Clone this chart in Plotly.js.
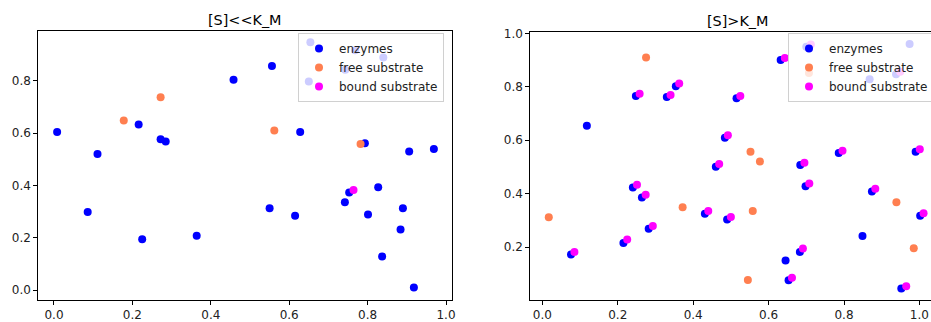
<!DOCTYPE html>
<html>
<head>
<meta charset="utf-8">
<script src="https://cdn.plot.ly/plotly-3.0.1.min.js"></script>
<style>
html,body{margin:0;padding:0;overflow:hidden;background:#fff;}
#chart{width:960px;height:322px;}
</style>
</head>
<body>
<div id="chart"></div>
<script>
// ---- Left panel: [S]<<K_M ----
const leftEnzX = [0.008,0.111,0.086,0.216,0.225,0.272,0.285,0.364,0.458,0.556,0.550,0.615,0.628,0.742,0.753,0.793,0.801,0.827,0.837,0.884,0.890,0.906,0.918,0.969,0.654,0.650,0.768,0.840,0.743];
const leftEnzY = [0.605,0.521,0.299,0.633,0.194,0.577,0.568,0.208,0.805,0.857,0.313,0.284,0.605,0.336,0.373,0.562,0.289,0.393,0.128,0.232,0.313,0.530,0.010,0.540,0.948,0.798,0.917,0.890,0.843];
const leftFreeX = [0.178,0.272,0.562,0.782];
const leftFreeY = [0.649,0.738,0.610,0.559];
const leftBoundX = [0.764];
const leftBoundY = [0.383];

// ---- Right panel: [S]>K_M ----
const rightEnzX = [0.076,0.118,0.215,0.240,0.248,0.264,0.282,0.330,0.354,0.431,0.460,0.484,0.490,0.515,0.632,0.645,0.653,0.683,0.684,0.698,0.786,0.849,0.874,0.952,0.990,1.002,0.868,0.974,0.938,0.700];
const rightEnzY = [0.172,0.654,0.215,0.423,0.766,0.386,0.269,0.762,0.802,0.325,0.501,0.609,0.303,0.757,0.900,0.150,0.076,0.182,0.507,0.428,0.552,0.241,0.408,0.045,0.557,0.317,0.828,0.960,0.847,0.950];
const rightFreeX = [0.017,0.275,0.372,0.552,0.577,0.558,0.545,0.939,0.985,0.707];
const rightFreeY = [0.312,0.910,0.349,0.557,0.520,0.335,0.077,0.368,0.196,0.852];
const rightBoundX = [0.085,0.225,0.251,0.258,0.274,0.293,0.340,0.363,0.440,0.469,0.492,0.500,0.525,0.643,0.662,0.691,0.695,0.708,0.796,0.883,0.965,1.001,1.011,0.712,0.949];
const rightBoundY = [0.182,0.228,0.433,0.774,0.396,0.279,0.769,0.812,0.335,0.511,0.619,0.313,0.766,0.908,0.085,0.195,0.516,0.438,0.561,0.418,0.053,0.566,0.327,0.958,0.856];

const seriesNames = ['enzymes','free substrate','bound substrate'];
const seriesColors = ['#0000ff','#ff7f50','#ff00ff'];
const titles = ['[S]<<K_M','[S]>K_M'];
const tickVals = [0.0,0.2,0.4,0.6,0.8,1.0];

const W = 960, H = 322;
const FONT = 'DejaVu Sans, sans-serif';

function tr(x, y, i, xa, ya, leg) {
  return {
    type: 'scatter', mode: 'markers', x: x, y: y, name: seriesNames[i],
    xaxis: xa, yaxis: ya, legend: leg,
    marker: {color: seriesColors[i], size: 8, line: {width: 0}},
    hoverinfo: 'skip'
  };
}

const data = [
  tr(leftEnzX, leftEnzY, 0, 'x', 'y', 'legend'),
  tr(leftFreeX, leftFreeY, 1, 'x', 'y', 'legend'),
  tr(leftBoundX, leftBoundY, 2, 'x', 'y', 'legend'),
  tr(rightEnzX, rightEnzY, 0, 'x2', 'y2', 'legend2'),
  tr(rightFreeX, rightFreeY, 1, 'x2', 'y2', 'legend2'),
  tr(rightBoundX, rightBoundY, 2, 'x2', 'y2', 'legend2')
];

function ax(domain, range, tickvals, anchor) {
  return {
    domain: domain, range: range, anchor: anchor,
    tickmode: 'array', tickvals: tickvals, tickformat: '.1f',
    showgrid: false, zeroline: false,
    showline: true, mirror: true, linecolor: '#000', linewidth: 1,
    ticks: 'outside', ticklen: 4, tickcolor: '#000', tickwidth: 1,
    tickfont: {family: FONT, size: 12, color: '#222'}
  };
}

const legendStyle = {
  bgcolor: 'rgba(255,255,255,0.8)', bordercolor: '#d0d0d0', borderwidth: 1,
  font: {family: FONT, size: 12, color: '#222'},
  xanchor: 'left', yanchor: 'top', tracegroupgap: 0
};

const layout = {
  width: W, height: H,
  margin: {l: 0, r: 0, t: 0, b: 0},
  paper_bgcolor: '#fff', plot_bgcolor: '#fff',
  showlegend: true,
  xaxis: ax([38.3/W, 452.3/W], [-0.040, 1.016], tickVals, 'y'),
  yaxis: ax([(H-299.5)/H, (H-31)/H], [-0.036, 0.991], [0.0,0.2,0.4,0.6,0.8], 'x'),
  xaxis2: ax([530.3/W, 944.3/W], [-0.032, 1.066], tickVals, 'y2'),
  yaxis2: ax([(H-299.7)/H, (H-32.3)/H], [0.003, 1.004], [0.2,0.4,0.6,0.8,1.0], 'x2'),
  legend: Object.assign({x: 298/W, y: (H-33)/H}, legendStyle),
  legend2: Object.assign({x: 788/W, y: (H-33)/H}, legendStyle),
  annotations: [
    {text: titles[0], xref: 'paper', yref: 'paper', x: 245.3/W, y: (H-20)/H, xanchor: 'center', yanchor: 'middle', showarrow: false, font: {family: FONT, size: 14.4, color: '#000'}},
    {text: titles[1], xref: 'paper', yref: 'paper', x: 737.3/W, y: (H-21)/H, xanchor: 'center', yanchor: 'middle', showarrow: false, font: {family: FONT, size: 14.4, color: '#000'}}
  ]
};

Plotly.newPlot('chart', data, layout, {staticPlot: true, displayModeBar: false});
</script>
</body>
</html>
